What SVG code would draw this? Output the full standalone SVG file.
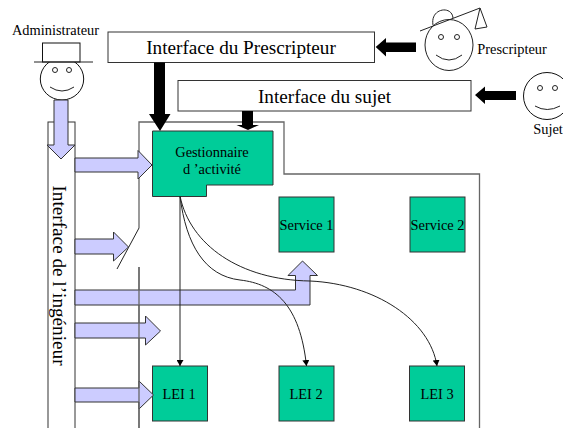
<svg xmlns="http://www.w3.org/2000/svg" width="563" height="428" viewBox="0 0 563 428">
<style>
text{font-family:"Liberation Serif","Times New Roman",serif;fill:#000}
.box{fill:#fff;stroke:#333;stroke-width:1}
.green{fill:#00cc99;stroke:#333;stroke-width:1}
.blue{fill:#ccccff;stroke:#333;stroke-width:1}
.blk{fill:#000;stroke:none}
.line{fill:none;stroke:#222;stroke-width:1}
.wall{fill:none;stroke:#666;stroke-width:1.300}
.face{fill:#fff;stroke:#111;stroke-width:1}
.t12{font-size:14.400px;text-anchor:middle}
.t16{font-size:19.200px;text-anchor:middle}
</style>
<defs>
<marker id="tip" markerUnits="userSpaceOnUse" markerWidth="7" markerHeight="7" refX="6" refY="3.500" orient="auto"><path d="M0,0L6,3.500L0,7z" fill="#000"/></marker>
</defs>
<g id="container"><path class="wall" d="M139,228V122H284V174H479.500V428M139,267V428"/><path class="line" d="M139,228L117,269"/></g>
<g id="interface-ingenieur"><rect class="box" x="48" y="122" width="27" height="310"/><text class="t16" transform="translate(53,275.500) rotate(90)">Interface de l’ingénieur</text></g>
<g id="interface-prescripteur"><rect class="box" x="108" y="32" width="266.500" height="30.500"/><text class="t16" x="241" y="54">Interface du Prescripteur</text></g>
<g id="interface-sujet"><rect class="box" x="178" y="80.500" width="293" height="30.500"/><text class="t16" x="324.500" y="103">Interface du sujet</text></g>
<g id="gestionnaire"><path class="green" d="M152.500,131H273V185H206.500V196.500H152.500z"/><text class="t12" x="212" y="157">Gestionnaire</text><text class="t12" x="212" y="174">d ’activité</text></g>
<g id="service1"><rect class="green" x="279" y="197" width="55" height="55"/><text class="t12" x="306.500" y="230">Service 1</text></g>
<g id="service2"><rect class="green" x="410" y="197" width="55" height="55"/><text class="t12" x="437.500" y="230">Service 2</text></g>
<g id="lei1"><rect class="green" x="152.500" y="366" width="55" height="55"/><text class="t12" x="179" y="399">LEI 1</text></g>
<g id="lei2"><rect class="green" x="279" y="366" width="55" height="55"/><text class="t12" x="306" y="399">LEI 2</text></g>
<g id="lei3"><rect class="green" x="409.500" y="366" width="55" height="55"/><text class="t12" x="437" y="399">LEI 3</text></g>
<g id="administrateur"><ellipse class="face" cx="62" cy="79" rx="21.700" ry="21"/><rect class="face" x="42.500" y="43" width="37.500" height="19"/><path class="line" d="M34,62H93M50,87Q62,95 74,87"/><circle class="line" cx="55" cy="70" r="2.500"/><circle class="line" cx="69" cy="70" r="2.500"/><text class="t12" x="55.500" y="35">Administrateur</text></g>
<g id="prescripteur"><path class="line" d="M433,25C430,8 452,5 453,18"/><ellipse class="line" cx="449" cy="45" rx="24" ry="25.500"/><path class="line" d="M420,31L480,8L475,29L487,27L480,8M436,55Q449,65 462,55"/><circle class="line" cx="441" cy="37" r="2.500"/><circle class="line" cx="457" cy="37" r="2.500"/><text class="t12" x="512" y="54">Prescripteur</text></g>
<g id="sujet"><ellipse class="face" cx="547" cy="96" rx="23.500" ry="23.500"/><path class="line" d="M535,106Q547,113 560,106"/><circle class="line" cx="540" cy="88" r="2.500"/><circle class="line" cx="555" cy="88" r="2.500"/><text class="t12" x="548" y="134">Sujet</text></g>
<g id="connectors">
<path class="blk" d="M154,62.500H165V114H170.500L160,131L149,114H154z"/>
<path class="blk" d="M242,111H253V125H259L248,130L236.500,125H242z"/>
<path class="blk" d="M416,42.500V52H386V56.500L375.700,47L386,38V42.500z"/>
<path class="blk" d="M516,91V100H485V104L475,95L485,86.500V91z"/>
<path class="blue" d="M54,100H68V145H75L61,159L47,145H54z"/>
<path class="blue" d="M75,158H138V150.500L152,165L138,179V172H75z"/>
<path class="blue" d="M75,239H113.500V232L128.500,247L113.500,261V254H75z"/>
<path class="blue" d="M75,290H295.500V275.500H288L302.500,261L317.500,275.500H310V305H75z"/>
<path class="blue" d="M75,323H145.500V316L160.500,331L145.500,345V338H75z"/>
<path class="blue" d="M75,388H139V381L153.500,395L139,409V402H75z"/>
<path class="wall" d="M139,267V428"/>
<path class="line" marker-end="url(#tip)" d="M180,196V366"/>
<path class="line" marker-end="url(#tip)" d="M180,196C186,245 205,276 240,280C275,284 300,305 306.500,366"/>
<path class="line" marker-end="url(#tip)" d="M180,196C190,245 240,280 310,281C375,284 430,320 437,366"/>
</g>
</svg>
